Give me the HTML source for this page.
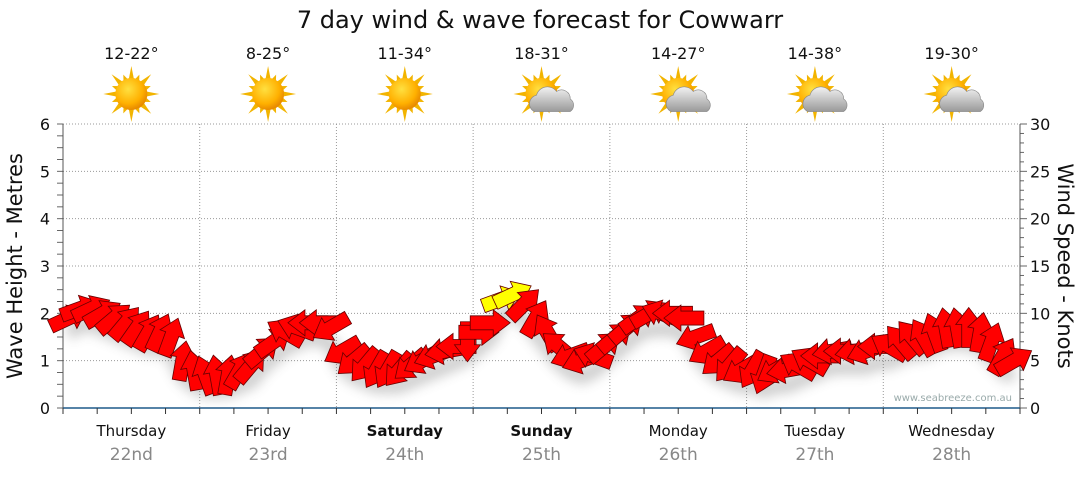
<!DOCTYPE html>
<html><head><meta charset="utf-8"><style>
body{margin:0;background:#fff;font-family:"Liberation Sans","DejaVu Sans",sans-serif}
svg text{font-family:"DejaVu Sans","Liberation Sans",sans-serif}
</style></head><body>
<svg id="c" width="1080" height="475" viewBox="0 0 1080 475" xmlns="http://www.w3.org/2000/svg">
<defs>
<radialGradient id="sg" cx="40%" cy="35%" r="65%"><stop offset="0" stop-color="#ffe040"/><stop offset="0.7" stop-color="#ffb000"/><stop offset="1" stop-color="#e88a00"/></radialGradient>
<linearGradient id="cg" x1="0" y1="0" x2="0" y2="1"><stop offset="0" stop-color="#f2f2f2"/><stop offset="1" stop-color="#9a9a9a"/></linearGradient>
<filter id="sh" x="-20%" y="-50%" width="140%" height="200%"><feGaussianBlur stdDeviation="6"/></filter>
</defs>
<text x="540" y="28" text-anchor="middle" font-size="24" fill="#111">7 day wind &amp; wave forecast for Cowwarr</text>
<g id="grid"></g><g id="axes"></g><g id="icons"></g><g id="shadow" filter="url(#sh)" opacity="0.3"></g><g id="arrows"></g>
<text x="1012" y="401" text-anchor="end" font-size="10" fill="#9aa">www.seabreeze.com.au</text>
<text transform="translate(22,266) rotate(-90)" text-anchor="middle" font-size="21" fill="#111">Wave Height - Metres</text>
<text transform="translate(1058,266) rotate(90)" text-anchor="middle" font-size="21" fill="#111">Wind Speed - Knots</text>
</svg>
<script>
const days=["Thursday","Friday","Saturday","Sunday","Monday","Tuesday","Wednesday"];
const dates=["22nd","23rd","24th","25th","26th","27th","28th"];
const boldDays=[false,false,true,true,false,false,false];
const temps=["12-22°","8-25°","11-34°","18-31°","14-27°","14-38°","19-30°"];
const cloudy=[false,false,false,true,true,true,true];
const waveTicks=[0,1,2,3,4,5,6];
const windTicks=[0,5,10,15,20,25,30];
// wind speed every 2 hours (knots)
const windSpeed=[9.5,10.5,10.5,10,9.5,9,8.5,8,8,7.5,5,4,
3.5,3.5,3.5,4,4.5,6,7,8,8.5,9,9,8.5,
6,5,4.5,4,4,4,4.5,5,5.5,6,6.5,7,
8,9,11.5,12,11,9.5,8,6.5,5.5,5,5.5,6.5,
7.5,8.5,9.5,10,10,10,9.5,7.5,6,5,4.5,4,
4,3.5,4,4,4.5,5,5.5,6,6,6,6,6.5,
6.5,7,7.5,7.5,8,8.5,8.5,8.5,8,7,5.5,5];
// arrow pointing angle in degrees (0 = right, negative = up)
const windDir=[-25,-20,-25,-30,-40,-50,-55,-60,-65,-70,-80,-100,
-110,-100,-80,-60,-50,-40,-35,-150,-160,180,180,150,
150,140,130,120,120,130,140,150,160,170,180,90,
0,0,-20,-25,-45,-60,-120,-140,160,160,-160,-40,
-40,-40,-35,-30,-160,180,180,160,150,140,130,150,
120,110,150,170,-150,-150,180,170,180,170,160,180,
-150,-130,-130,-120,-110,-100,-100,-90,-80,-70,-60,-30];
const X0=63,X1=1020,Y0=408,Y1=124;
const dayW=(X1-X0)/7;
const yWave=v=>Y0-(v/6)*(Y0-Y1);
const yWind=v=>Y0-(v/30)*(Y0-Y1);
const xIdx=i=>X0+(i+0.5)*(X1-X0)/windSpeed.length;
const NS="http://www.w3.org/2000/svg";
function mk(tag,attrs,parent){const e=document.createElementNS(NS,tag);for(const k in attrs)e.setAttribute(k,attrs[k]);parent.appendChild(e);return e;}
const grid=document.getElementById('grid'),axes=document.getElementById('axes'),icons=document.getElementById('icons'),arr=document.getElementById('arrows'),shd=document.getElementById('shadow');
waveTicks.forEach(v=>{
 if(v>0){const l=mk('line',{x1:X0,x2:X1,y1:yWave(v),y2:yWave(v),stroke:'#999','stroke-dasharray':'1,2'},grid);
 
 }
 const t=mk('text',{x:50,y:yWave(v)+6,'text-anchor':'end','font-size':16,fill:'#111'},axes);t.textContent=v;
 
 
});
windTicks.forEach(v=>{
 const t=mk('text',{x:1030,y:yWind(v)+6,'font-size':16,fill:'#111'},axes);t.textContent=v;
 
 
});
for(let k=0;k<=24;k++){const y=Y0-k*(Y0-Y1)/24;mk('line',{x1:X0-6,x2:X0,y1:y,y2:y,stroke:'#666'},axes);}
for(let k=0;k<=30;k++){const y=yWind(k);mk('line',{x1:X1,x2:X1+(k%5?4:7),y1:y,y2:y,stroke:'#666'},axes);}
mk('line',{x1:X0,x2:X0,y1:Y1,y2:Y0,stroke:'#555'},axes);
mk('line',{x1:X1,x2:X1,y1:Y1,y2:Y0,stroke:'#555'},axes);
mk('line',{x1:X0,x2:X1,y1:Y0,y2:Y0,stroke:'#1f5a8a','stroke-width':1.5},axes);
for(let k=0;k<=28;k++){const x=X0+k*dayW/4;mk('line',{x1:x,x2:x,y1:Y0,y2:Y0+6,stroke:'#333'},axes);}
days.forEach((d,i)=>{
 const cx=X0+(i+0.5)*dayW;
 if(i>0){const l=mk('line',{x1:X0+i*dayW,x2:X0+i*dayW,y1:Y1,y2:Y0,stroke:'#999','stroke-dasharray':'1,2'},grid);
 
 }
 const t=mk('text',{x:cx,y:436,'text-anchor':'middle','font-size':15,fill:'#111','font-weight':boldDays[i]?'bold':'normal'},axes);t.textContent=d;
 
 
 const t2=mk('text',{x:cx,y:460,'text-anchor':'middle','font-size':17,fill:'#888'},axes);t2.textContent=dates[i];
 
 
 const t3=mk('text',{x:cx,y:59,'text-anchor':'middle','font-size':16,fill:'#111'},icons);t3.textContent=temps[i];
 
 
 const g=mk('g',{transform:`translate(${cx},94)`},icons);
 
 
 for(let r=0;r<16;r++){const a=r*Math.PI/8,L=r%2?21:28;
  mk('polygon',{points:`${Math.cos(a)*L},${Math.sin(a)*L} ${Math.cos(a+0.2)*14},${Math.sin(a+0.2)*14} ${Math.cos(a-0.2)*14},${Math.sin(a-0.2)*14}`,fill:'#f2b400'},g);}
 mk('circle',{r:16,fill:'url(#sg)'},g);
 if(cloudy[i]){const c=mk('g',{transform:'translate(10,5) scale(1.25)'},g);
  mk('path',{d:'M-14,10 a7,7 0 0,1 2,-13 a9,9 0 0,1 16,-3 a7,7 0 0,1 11,6 a6,6 0 0,1 0,10 z',fill:'url(#cg)',stroke:'#888','stroke-width':0.5},c);}
});
let sp='';windSpeed.forEach((v,i)=>{sp+=(i?'L':'M')+xIdx(i)+','+(yWind(v)+16);});
mk('path',{d:sp,stroke:'#555','stroke-width':14,fill:'none'},shd);
windSpeed.forEach((v,i)=>{
 const x=xIdx(i),y=yWind(v);
 const p=mk('polygon',{points:'-20,-7 3,-7 3,-13 20,0 3,13 3,7 -20,7',fill:v>=11.5?'#ffff00':'#ff0000',stroke:'#600','stroke-width':0.8,transform:`translate(${x},${y}) rotate(${windDir[i]})`},arr);
 
 
});
</script>
</body></html>
